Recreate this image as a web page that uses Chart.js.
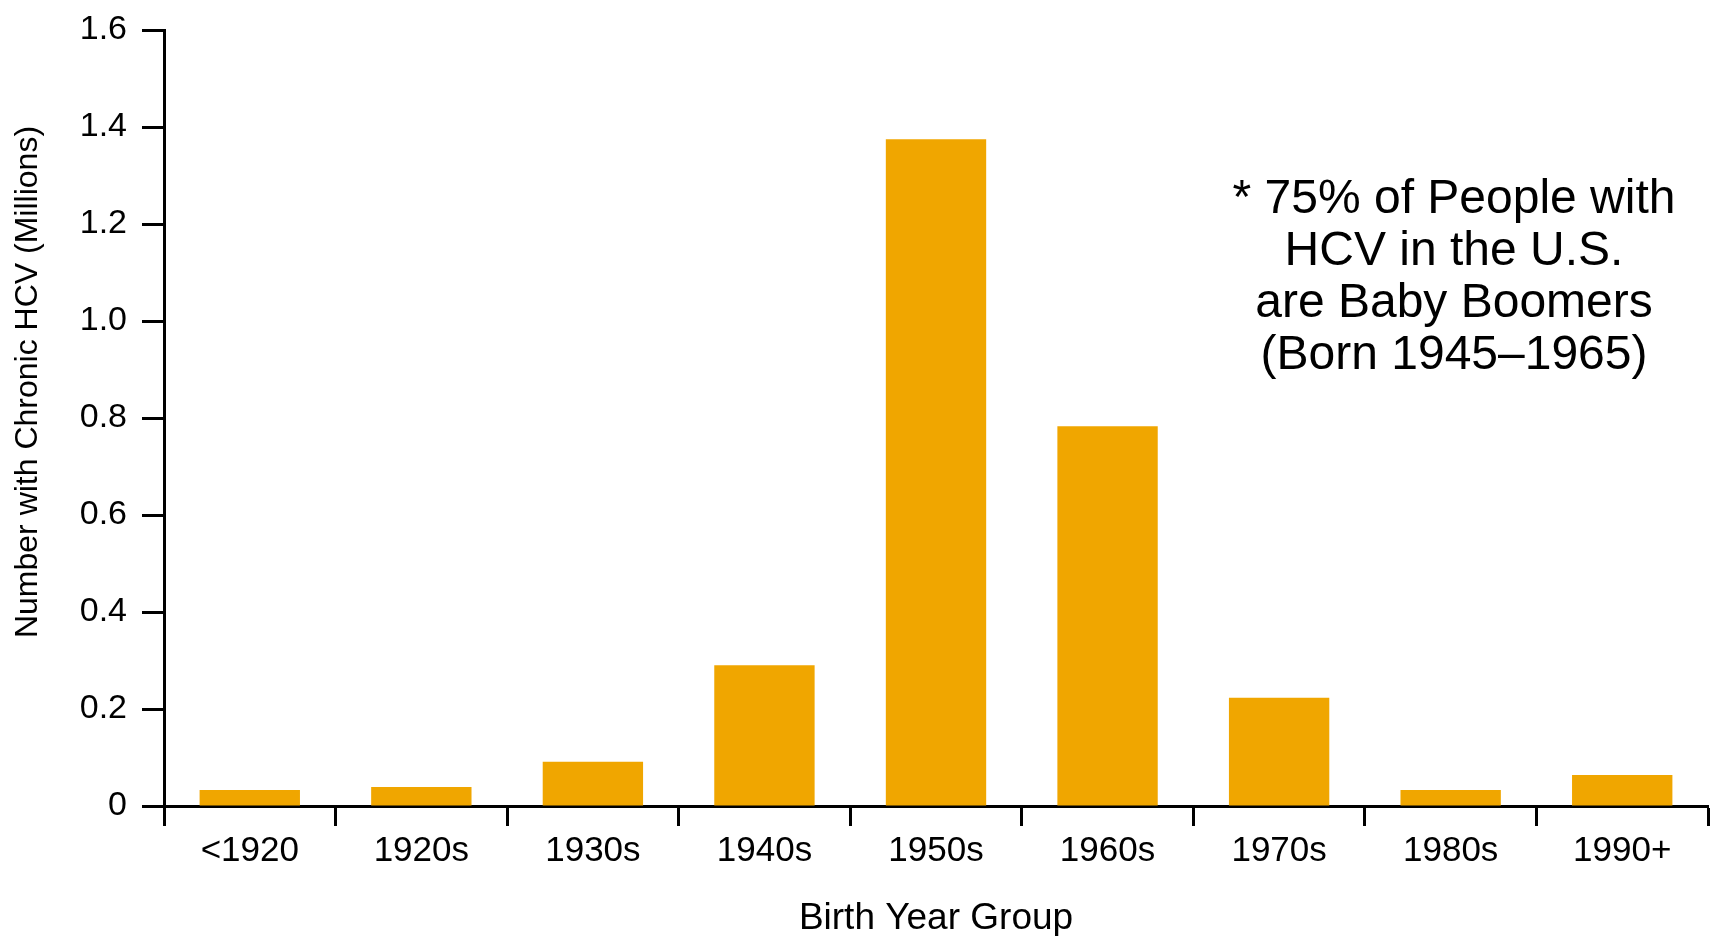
<!DOCTYPE html>
<html>
<head>
<meta charset="utf-8">
<title>Chronic HCV by Birth Year Group</title>
<script src="https://cdn.jsdelivr.net/npm/chart.js@4/dist/chart.umd.min.js"></script>
<style>
  html, body { margin: 0; padding: 0; background: #ffffff; }
  #wrap { width: 1721px; height: 936px; position: relative; }
  canvas { display: block; }
</style>
</head>
<body>
<div id="wrap"><canvas id="chart" width="1721" height="936"></canvas></div>
<script>
// Birth year groups and number of people with chronic HCV (millions)
const birthGroups = ['<1920', '1920s', '1930s', '1940s', '1950s', '1960s', '1970s', '1980s', '1990+'];
const chronicHcvMillions = [0.033, 0.039, 0.091, 0.290, 1.375, 0.783, 0.223, 0.033, 0.064];

// Y axis range and tick step
const yMin = 0;
const yMax = 1.6;
const yStep = 0.2;

const yAxisTitle = 'Number with Chronic HCV (Millions)';
const xAxisTitle = 'Birth Year Group';
const noteLines = ['* 75% of People with', 'HCV in the U.S.', 'are Baby Boomers', '(Born 1945\u20131965)'];

const FONT = '"Liberation Sans", Arial, Helvetica, sans-serif';
const BAR_COLOR = '#F0A600';

// Rotated y-axis title and the side note
const textPlugin = {
  id: 'sideText',
  afterDraw(chart) {
    const ctx = chart.ctx;
    ctx.save();
    ctx.fillStyle = '#000000';
    // y-axis title
    ctx.save();
    ctx.translate(28, 382);
    ctx.rotate(-Math.PI / 2);
    ctx.font = '32px ' + FONT;
    ctx.textAlign = 'center';
    ctx.textBaseline = 'middle';
    ctx.fillText(yAxisTitle, 0, 0);
    ctx.restore();
    // note text
    ctx.font = '48px ' + FONT;
    ctx.textAlign = 'center';
    ctx.textBaseline = 'middle';
    const cx = 1454;
    const y0 = 200;
    const lh = 51.8;
    noteLines.forEach((t, i) => ctx.fillText(t, cx, y0 + i * lh));
    ctx.restore();
  }
};

new Chart(document.getElementById('chart'), {
  type: 'bar',
  data: {
    labels: birthGroups,
    datasets: [{
      data: chronicHcvMillions,
      backgroundColor: BAR_COLOR,
      borderWidth: 0,
      categoryPercentage: 1.0,
      barPercentage: 0.585
    }]
  },
  options: {
    responsive: false,
    animation: false,
    devicePixelRatio: 1,
    layout: { padding: { top: 30, right: 13, bottom: 0, left: 0 } },
    plugins: {
      legend: { display: false },
      tooltip: { enabled: false },
      title: { display: false }
    },
    scales: {
      x: {
        offset: true,
        grid: {
          offset: true,
          drawOnChartArea: false,
          drawTicks: true,
          tickLength: 20,
          tickWidth: 3,
          tickColor: '#000000'
        },
        border: { display: true, color: '#000000', width: 3 },
        ticks: {
          color: '#000000',
          font: { family: FONT, size: 35 },
          padding: 4,
          maxRotation: 0,
          autoSkip: false
        },
        title: {
          display: true,
          text: xAxisTitle,
          color: '#000000',
          font: { family: FONT, size: 37, lineHeight: 0.95 },
          padding: { top: 0, bottom: 0 }
        },
        afterFit(scale) { scale.height = 130; }
      },
      y: {
        min: yMin,
        max: yMax,
        grid: {
          drawOnChartArea: false,
          drawTicks: true,
          tickLength: 22,
          tickWidth: 3,
          tickColor: '#000000'
        },
        border: { display: true, color: '#000000', width: 3 },
        ticks: {
          stepSize: yStep,
          color: '#000000',
          font: { family: FONT, size: 34, lineHeight: 0.85 },
          padding: 15,
          callback: (v) => (v === 0 ? '0' : Number(v).toFixed(1))
        },
        afterFit(scale) { scale.width = 164; }
      }
    }
  },
  plugins: [textPlugin]
});
</script>
</body>
</html>
